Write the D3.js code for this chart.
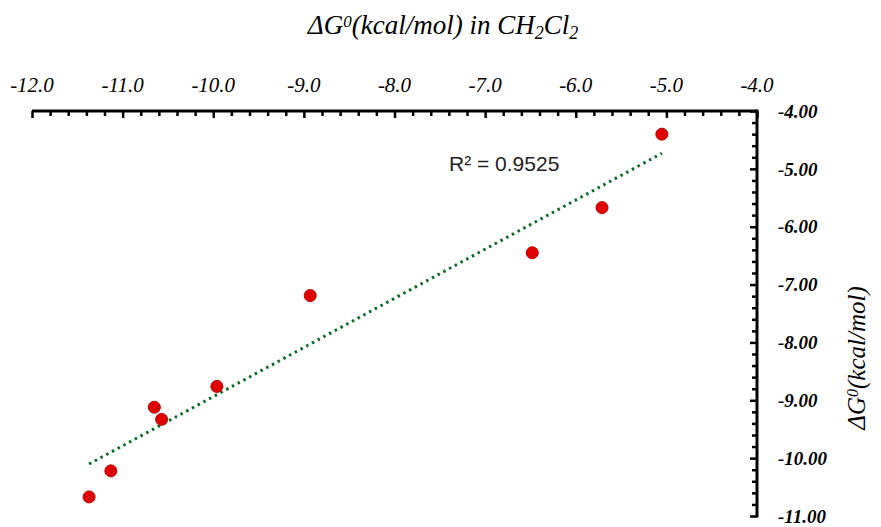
<!DOCTYPE html>
<html>
<head>
<meta charset="utf-8">
<script src="https://cdn.jsdelivr.net/npm/d3@7"></script>
<style>
  body { margin: 0; background: #fff; }
</style>
</head>
<body>
<script>
var width = 881,
    height = 527;

// data: x = dG in CH2Cl2, y = dG
var xValues = [-5.05, -5.71, -6.48, -8.93, -9.96, -10.65, -10.57, -11.13, -11.37];
var yValues = [-4.40, -5.67, -6.45, -7.19, -8.76, -9.12, -9.33, -10.22, -10.67];
var xTicks = [-12, -11, -10, -9, -8, -7, -6, -5, -4];
var yTicks = [-4, -5, -6, -7, -8, -9, -10, -11];
var r2Label = "R² = 0.9525";

var svg = d3.select("body").append("svg")
    .attr("width", width)
    .attr("height", height);

var x = d3.scaleLinear().domain([-12, -4]).range([32, 757]);
var y = d3.scaleLinear().domain([-4, -11]).range([111, 516]);

var serif = "'Liberation Serif', 'Times New Roman', serif";

function isMajor(v) { return Math.abs(v - Math.round(v)) < 1e-6; }

// top axis
var xAxis = d3.axisBottom(x)
    .tickValues(d3.range(-12, -3.99, 0.2))
    .tickSize(5)
    .tickFormat("");
var gx = svg.append("g")
    .attr("transform", "translate(0," + y(-4) + ")")
    .call(xAxis);
gx.select(".domain").attr("stroke", "#000").attr("stroke-width", 3).attr("d", "M" + x(-12) + ",0H" + x(-4));
gx.selectAll(".tick line")
    .attr("stroke", "#000")
    .attr("stroke-width", 2.5)
    .attr("y2", function (d) { return isMajor(d) ? 7 : 5; });

gx.selectAll(".lbl")
    .data(xTicks)
    .enter().append("text")
    .attr("x", function (d) { return x(d); })
    .attr("y", -19)
    .attr("text-anchor", "middle")
    .attr("fill", "#000")
    .attr("font-family", serif)
    .attr("font-style", "italic")
    .attr("font-size", 21)
    .text(function (d) { return d3.format(".1f")(d).replace("−", "-"); });

// right axis
var yAxis = d3.axisLeft(y)
    .tickValues(d3.range(-4, -11.01, -0.2))
    .tickSize(5)
    .tickFormat("");
var gy = svg.append("g")
    .attr("transform", "translate(" + x(-4) + ",0)")
    .call(yAxis);
gy.select(".domain").attr("stroke", "#000").attr("stroke-width", 3).attr("d", "M0," + (y(-4) - 1.5) + "V" + (y(-11) + 1.5));
gy.selectAll(".tick line")
    .attr("stroke", "#000")
    .attr("stroke-width", 2.5)
    .attr("x2", function (d) { return isMajor(d) ? -7 : -5; });

gy.selectAll(".lbl")
    .data(yTicks)
    .enter().append("text")
    .attr("x", 21)
    .attr("y", function (d) { return y(d); })
    .attr("dy", "0.35em")
    .attr("text-anchor", "start")
    .attr("fill", "#000")
    .attr("font-family", serif)
    .attr("font-style", "italic")
    .attr("font-weight", "bold")
    .attr("font-size", 19)
    .text(function (d) { return d3.format(".2f")(d).replace("−", "-"); });

// titles
var title = svg.append("text")
    .attr("x", 443)
    .attr("y", 34)
    .attr("text-anchor", "middle")
    .attr("font-family", serif)
    .attr("font-style", "italic")
    .attr("font-size", 27);
title.append("tspan").text("ΔG");
title.append("tspan").attr("dy", -7).attr("font-size", 17).text("0");
title.append("tspan").attr("dy", 7).text("(kcal/mol)  in CH");
title.append("tspan").attr("dy", 5).attr("font-size", 18).text("2");
title.append("tspan").attr("dy", -5).text("Cl");
title.append("tspan").attr("dy", 5).attr("font-size", 18).text("2");

var ytitle = svg.append("text")
    .attr("transform", "translate(865,358) rotate(-90)")
    .attr("text-anchor", "middle")
    .attr("font-family", serif)
    .attr("font-style", "italic")
    .attr("font-size", 25);
ytitle.append("tspan").text("ΔG");
ytitle.append("tspan").attr("dy", -7).attr("font-size", 16).text("0");
ytitle.append("tspan").attr("dy", 7).text("(kcal/mol)");

// linear fit
var mx = d3.mean(xValues), my = d3.mean(yValues);
var sxy = d3.sum(xValues, function (v, i) { return (v - mx) * (yValues[i] - my); });
var sxx = d3.sum(xValues, function (v) { return (v - mx) * (v - mx); });
var slope = sxy / sxx, icpt = my - slope * mx;
var xr = d3.extent(xValues);

svg.append("line")
    .attr("x1", x(xr[0])).attr("y1", y(slope * xr[0] + icpt))
    .attr("x2", x(xr[1])).attr("y2", y(slope * xr[1] + icpt))
    .attr("stroke", "#0a6a2a")
    .attr("stroke-width", 3)
    .attr("stroke-dasharray", "2.5,4");

svg.append("text")
    .attr("x", 449)
    .attr("y", 171)
    .attr("font-family", "'Liberation Sans', Arial, sans-serif")
    .attr("font-size", 21)
    .attr("fill", "#222")
    .text(r2Label);

// points
svg.append("g")
    .selectAll("circle")
    .data(xValues)
    .enter().append("circle")
    .attr("cx", function (d) { return x(d); })
    .attr("cy", function (d, i) { return y(yValues[i]); })
    .attr("r", 6)
    .attr("fill", "#e00000")
    .attr("stroke", "#b80000")
    .attr("stroke-width", 1);
</script>
</body>
</html>
